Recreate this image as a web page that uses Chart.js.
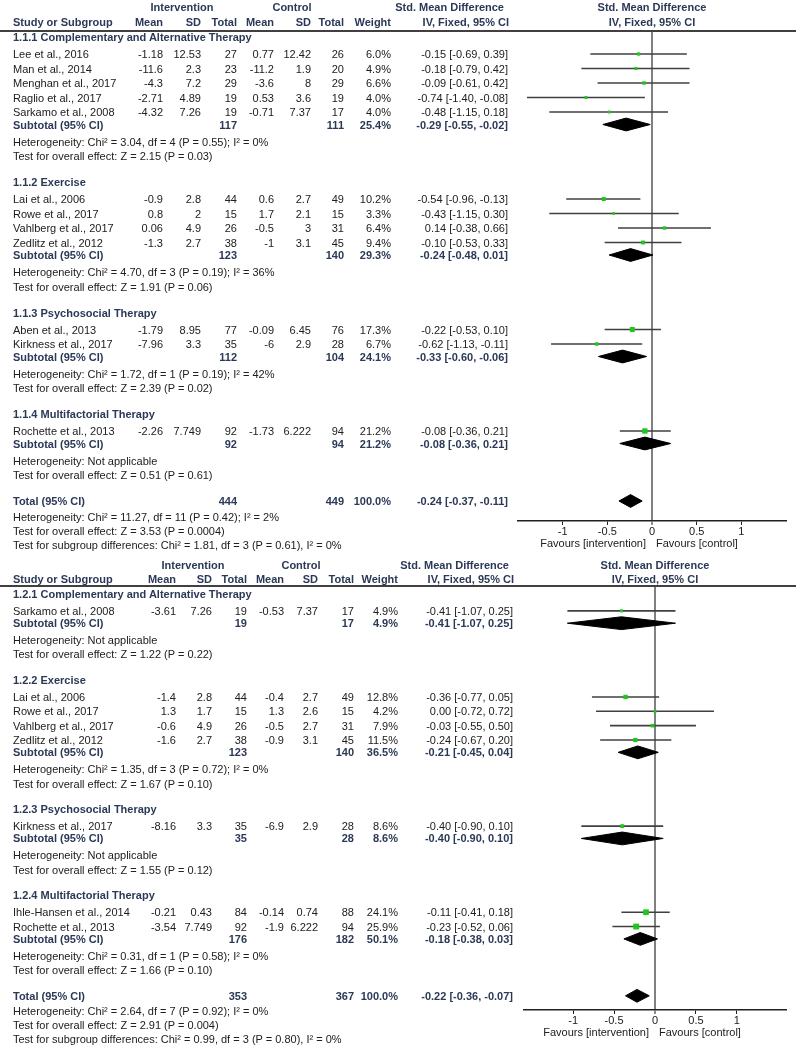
<!DOCTYPE html>
<html><head><meta charset="utf-8">
<script src="https://cdn.jsdelivr.net/npm/chart.js@4.4.0/dist/chart.umd.min.js"></script>
<style>
html,body{margin:0;padding:0;background:#fff;}
#page{position:relative;width:802px;height:1050px;overflow:hidden;font-family:"Liberation Sans",Arial,sans-serif;font-size:11px;color:#202020;}
.t{position:absolute;white-space:nowrap;line-height:14px;height:14px;}
.b{font-weight:bold;color:#2b3957;}
canvas{position:absolute;left:0;}
.hl{position:absolute;left:0;width:796px;height:0;border-top:2px solid #404040;}
</style></head>
<body><div id="page">
<canvas id="c1"></canvas>
<canvas id="c2"></canvas>
</div>
<script>
// ================= Panel 1 data =================
const groups1 = ['1.1.1 Complementary and Alternative Therapy','1.1.2 Exercise','1.1.3 Psychosocial Therapy','1.1.4 Multifactorial Therapy'];
const studies1 = ['Lee et al., 2016','Man et al., 2014','Menghan et al., 2017','Raglio et al., 2017','Sarkamo et al., 2008','Lai et al., 2006','Rowe et al., 2017','Vahlberg et al., 2017','Zedlitz et al., 2012','Aben et al., 2013','Kirkness et al., 2017','Rochette et al., 2013'];
const studyGroup1 = [0,0,0,0,0,1,1,1,1,2,2,3];
const intMean1 = [-1.18,-11.6,-4.3,-2.71,-4.32,-0.9,0.8,0.06,-1.3,-1.79,-7.96,-2.26];
const intSD1 = [12.53,2.3,7.2,4.89,7.26,2.8,2,4.9,2.7,8.95,3.3,7.749];
const intN1 = [27,23,29,19,19,44,15,26,38,77,35,92];
const ctlMean1 = [0.77,-11.2,-3.6,0.53,-0.71,0.6,1.7,-0.5,-1,-0.09,-6,-1.73];
const ctlSD1 = [12.42,1.9,8,3.6,7.37,2.7,2.1,3,3.1,6.45,2.9,6.222];
const ctlN1 = [26,20,29,19,17,49,15,31,45,76,28,94];
const weight1 = [6.0,4.9,6.6,4.0,4.0,10.2,3.3,6.4,9.4,17.3,6.7,21.2];
const smd1 = [-0.15,-0.18,-0.09,-0.74,-0.48,-0.54,-0.43,0.14,-0.10,-0.22,-0.62,-0.08];
const smdLo1 = [-0.69,-0.79,-0.61,-1.40,-1.15,-0.96,-1.15,-0.38,-0.53,-0.53,-1.13,-0.36];
const smdHi1 = [0.39,0.42,0.42,-0.08,0.18,-0.13,0.30,0.66,0.33,0.10,-0.11,0.21];
const subIntN1 = [117,123,112,92];
const subCtlN1 = [111,140,104,94];
const subWeight1 = [25.4,29.3,24.1,21.2];
const subSmd1 = [-0.29,-0.24,-0.33,-0.08];
const subLo1 = [-0.55,-0.48,-0.60,-0.36];
const subHi1 = [-0.02,0.01,-0.06,0.21];
const subHet1 = ['Chi² = 3.04, df = 4 (P = 0.55); I² = 0%','Chi² = 4.70, df = 3 (P = 0.19); I² = 36%','Chi² = 1.72, df = 1 (P = 0.19); I² = 42%','Not applicable'];
const subZ1 = ['Z = 2.15 (P = 0.03)','Z = 1.91 (P = 0.06)','Z = 2.39 (P = 0.02)','Z = 0.51 (P = 0.61)'];
const totalN1 = [444,449];
const totalWeight1 = 100.0;
const totalSmd1 = [-0.24,-0.37,-0.11];
const totalHet1 = 'Chi² = 11.27, df = 11 (P = 0.42); I² = 2%';
const totalZ1 = 'Z = 3.53 (P = 0.0004)';
const subgroupTest1 = 'Chi² = 1.81, df = 3 (P = 0.61), I² = 0%';

// ================= Panel 2 data =================
const groups2 = ['1.2.1 Complementary and Alternative Therapy','1.2.2 Exercise','1.2.3 Psychosocial Therapy','1.2.4 Multifactorial Therapy'];
const studies2 = ['Sarkamo et al., 2008','Lai et al., 2006','Rowe et al., 2017','Vahlberg et al., 2017','Zedlitz et al., 2012','Kirkness et al., 2017','Ihle-Hansen et al., 2014','Rochette et al., 2013'];
const studyGroup2 = [0,1,1,1,1,2,3,3];
const intMean2 = [-3.61,-1.4,1.3,-0.6,-1.6,-8.16,-0.21,-3.54];
const intSD2 = [7.26,2.8,1.7,4.9,2.7,3.3,0.43,7.749];
const intN2 = [19,44,15,26,38,35,84,92];
const ctlMean2 = [-0.53,-0.4,1.3,-0.5,-0.9,-6.9,-0.14,-1.9];
const ctlSD2 = [7.37,2.7,2.6,2.7,3.1,2.9,0.74,6.222];
const ctlN2 = [17,49,15,31,45,28,88,94];
const weight2 = [4.9,12.8,4.2,7.9,11.5,8.6,24.1,25.9];
const smd2 = [-0.41,-0.36,0.00,-0.03,-0.24,-0.40,-0.11,-0.23];
const smdLo2 = [-1.07,-0.77,-0.72,-0.55,-0.67,-0.90,-0.41,-0.52];
const smdHi2 = [0.25,0.05,0.72,0.50,0.20,0.10,0.18,0.06];
const subIntN2 = [19,123,35,176];
const subCtlN2 = [17,140,28,182];
const subWeight2 = [4.9,36.5,8.6,50.1];
const subSmd2 = [-0.41,-0.21,-0.40,-0.18];
const subLo2 = [-1.07,-0.45,-0.90,-0.38];
const subHi2 = [0.25,0.04,0.10,0.03];
const subHet2 = ['Not applicable','Chi² = 1.35, df = 3 (P = 0.72); I² = 0%','Not applicable','Chi² = 0.31, df = 1 (P = 0.58); I² = 0%'];
const subZ2 = ['Z = 1.22 (P = 0.22)','Z = 1.67 (P = 0.10)','Z = 1.55 (P = 0.12)','Z = 1.66 (P = 0.10)'];
const totalN2 = [353,367];
const totalWeight2 = 100.0;
const totalSmd2 = [-0.22,-0.36,-0.07];
const totalHet2 = 'Chi² = 2.64, df = 7 (P = 0.92); I² = 0%';
const totalZ2 = 'Z = 2.91 (P = 0.004)';
const subgroupTest2 = 'Chi² = 0.99, df = 3 (P = 0.80), I² = 0%';

// ================= shared labels =================
const xTicks = [-1,-0.5,0,0.5,1];
const colHeads = ['Mean','SD','Total','Mean','SD','Total','Weight'];
const armHeads = ['Intervention','Control'];
const effectHeads = ['Std. Mean Difference','IV, Fixed, 95% CI'];
const favourLabels = ['Favours [intervention]','Favours [control]'];

// ================= layout (positions only) =================
const L1 = {canvasTop:0, areaTop:31, areaBottom:521, y0:37, step:14.5, plotLeft:518, plotRight:786, xmin:-1.5, xmax:1.5,
  cols:[163,201,237,274,311,344,391], label:13, eff:508, hy1:7, hy2:22, intC:182, ctlC:292, smdL:504, ivL:509, zeroX:652, favY:543};
const L2 = {canvasTop:555, areaTop:586, areaBottom:1010, y0:594, step:14.35, plotLeft:524, plotRight:786, xmin:-1.6, xmax:1.6,
  cols:[176,212,247,284,318,354,398], label:13, eff:513, hy1:565, hy2:579, intC:193, ctlC:301, smdL:509, ivL:514, zeroX:655, favY:1032};
// vertical nudges (px) per row kind
const OFF = {group:0, study:2.5, sub:0.5, het:3, test:3, total:0, thet:1, ttest:0.5, sg:0};

Chart.defaults.font.family = '"Liberation Sans", Arial, sans-serif';
Chart.defaults.font.size = 11;
Chart.defaults.color = '#202020';

const page = document.getElementById('page');
function addText(txt, x, y, align, bold){
  const d = document.createElement('div');
  d.className = 't' + (bold ? ' b' : '');
  d.textContent = txt;
  d.style.top = (y - 7) + 'px';
  if (align === 'l') { d.style.left = x + 'px'; }
  else if (align === 'r') { d.style.left = (x - 300) + 'px'; d.style.width = '300px'; d.style.textAlign = 'right'; }
  else { d.style.left = (x - 150) + 'px'; d.style.width = '300px'; d.style.textAlign = 'center'; }
  page.appendChild(d);
}
const f2 = v => v.toFixed(2);
const effStr = (e, lo, hi) => f2(e) + ' [' + f2(lo) + ', ' + f2(hi) + ']';

function buildPanel(P, L, canvasId){
  const rv = (i, kind) => i + OFF[kind] / L.step;   // row value on the y scale
  const py = v => L.y0 + v * L.step;                 // same mapping as the chart's y scale
  // header
  addText(armHeads[0], L.intC, L.hy1, 'c', true);
  addText(armHeads[1], L.ctlC, L.hy1, 'c', true);
  addText(effectHeads[0], L.smdL, L.hy1, 'r', true);
  addText(effectHeads[0], L.zeroX, L.hy1, 'c', true);
  addText('Study or Subgroup', L.label, L.hy2, 'l', true);
  colHeads.forEach((h, k) => addText(h, L.cols[k], L.hy2, 'r', true));
  addText(effectHeads[1], L.ivL, L.hy2, 'r', true);
  addText(effectHeads[1], L.zeroX, L.hy2, 'c', true);
  const hl = document.createElement('div'); hl.className = 'hl'; hl.style.top = (L.areaTop - 1) + 'px'; page.appendChild(hl);

  const studyPts = [], lines = [], diamonds = [];
  let idx = 0;
  P.groups.forEach((g, gi) => {
    addText(g, L.label, py(rv(idx, 'group')), 'l', true); idx++;
    P.names.forEach((n, si) => {
      if (P.grp[si] !== gi) return;
      const v = rv(idx, 'study'), y = py(v);
      addText(n, L.label, y, 'l', false);
      [P.im[si], P.isd[si], P.in[si], P.cm[si], P.csd[si], P.cn[si]].forEach((val, k) => addText(String(val), L.cols[k], y, 'r', false));
      addText(P.w[si].toFixed(1) + '%', L.cols[6], y, 'r', false);
      addText(effStr(P.e[si], P.lo[si], P.hi[si]), L.eff, y, 'r', false);
      studyPts.push({x: P.e[si], y: v, w: P.w[si]});
      lines.push([{x: P.lo[si], y: v}, {x: P.hi[si], y: v}]);
      idx++;
    });
    const vs = rv(idx, 'sub'), ys = py(vs);
    addText('Subtotal (95% CI)', L.label, ys, 'l', true);
    addText(String(P.sin[gi]), L.cols[2], ys, 'r', true);
    addText(String(P.scn[gi]), L.cols[5], ys, 'r', true);
    addText(P.sw[gi].toFixed(1) + '%', L.cols[6], ys, 'r', true);
    addText(effStr(P.se[gi], P.slo[gi], P.shi[gi]), L.eff, ys, 'r', true);
    diamonds.push({e: P.se[gi], lo: P.slo[gi], hi: P.shi[gi], y: vs});
    idx++;
    addText('Heterogeneity: ' + P.het[gi], L.label, py(rv(idx, 'het')), 'l', false); idx++;
    addText('Test for overall effect: ' + P.z[gi], L.label, py(rv(idx, 'test')), 'l', false); idx++;
    idx++;
  });
  const vt = rv(idx, 'total'), yt = py(vt);
  addText('Total (95% CI)', L.label, yt, 'l', true);
  addText(String(P.tn[0]), L.cols[2], yt, 'r', true);
  addText(String(P.tn[1]), L.cols[5], yt, 'r', true);
  addText(P.tw.toFixed(1) + '%', L.cols[6], yt, 'r', true);
  addText(effStr(P.te[0], P.te[1], P.te[2]), L.eff, yt, 'r', true);
  diamonds.push({e: P.te[0], lo: P.te[1], hi: P.te[2], y: vt});
  idx++;
  addText('Heterogeneity: ' + P.thet, L.label, py(rv(idx, 'thet')), 'l', false); idx++;
  addText('Test for overall effect: ' + P.tz, L.label, py(rv(idx, 'ttest')), 'l', false); idx++;
  addText('Test for subgroup differences: ' + P.sg, L.label, py(rv(idx, 'sg')), 'l', false);

  addText(favourLabels[0], L.zeroX - 6, L.favY, 'r', false);
  addText(favourLabels[1], L.zeroX + 4, L.favY, 'l', false);

  // chart
  const cv = document.getElementById(canvasId);
  const axisH = 20;
  const H = (L.areaBottom - L.canvasTop) + axisH;
  cv.width = 802; cv.height = H;
  cv.style.top = L.canvasTop + 'px'; cv.style.width = '802px'; cv.style.height = H + 'px';
  const ymin = (L.areaTop - L.y0) / L.step, ymax = (L.areaBottom - L.y0) / L.step;
  const dh = 6.4 / L.step;
  const datasets = [];
  datasets.push({type: 'scatter', data: studyPts.map(p => ({x: p.x, y: p.y})), pointStyle: 'rect',
    pointRadius: studyPts.map(p => (1 + 0.95 * Math.sqrt(p.w)) * Math.SQRT1_2),
    backgroundColor: '#1dc81d', borderWidth: 0, order: 0});
  lines.forEach(l => datasets.push({type: 'line', data: l, borderColor: '#404040', borderWidth: 1.6, pointRadius: 0, fill: false, order: 2}));
  diamonds.forEach(d => datasets.push({type: 'line', data: [{x: d.lo, y: d.y}, {x: d.e, y: d.y - dh}, {x: d.hi, y: d.y}, {x: d.e, y: d.y + dh}, {x: d.lo, y: d.y}],
    borderColor: '#000', backgroundColor: '#000', borderWidth: 1, pointRadius: 0, fill: 'shape', tension: 0, order: 1}));
  new Chart(cv, {
    type: 'scatter',
    data: {datasets},
    options: {
      responsive: false, animation: false, events: [],
      layout: {padding: {left: L.plotLeft, right: 802 - L.plotRight, top: L.areaTop - L.canvasTop, bottom: 0}},
      plugins: {legend: {display: false}, tooltip: {enabled: false}},
      scales: {
        x: {type: 'linear', min: L.xmin, max: L.xmax, position: 'bottom',
          afterBuildTicks: s => { s.ticks = xTicks.map(v => ({value: v})); },
          afterFit: s => { s.height = axisH; },
          ticks: {color: '#202020', padding: 0, maxRotation: 0, autoSkip: false, callback: v => String(v)},
          grid: {color: c => (c.tick && c.tick.value === 0) ? '#808080' : 'rgba(0,0,0,0)',
                 lineWidth: c => (c.tick && c.tick.value === 0) ? 2 : 1,
                 tickColor: '#202020', tickLength: 4, tickWidth: 1},
          border: {display: true, color: '#202020', width: 1.5}
        },
        y: {type: 'linear', reverse: true, min: ymin, max: ymax, display: false}
      }
    }
  });
}

buildPanel({groups: groups1, names: studies1, grp: studyGroup1, im: intMean1, isd: intSD1, in: intN1, cm: ctlMean1, csd: ctlSD1, cn: ctlN1,
  w: weight1, e: smd1, lo: smdLo1, hi: smdHi1, sin: subIntN1, scn: subCtlN1, sw: subWeight1, se: subSmd1, slo: subLo1, shi: subHi1,
  het: subHet1, z: subZ1, tn: totalN1, tw: totalWeight1, te: totalSmd1, thet: totalHet1, tz: totalZ1, sg: subgroupTest1}, L1, 'c1');
buildPanel({groups: groups2, names: studies2, grp: studyGroup2, im: intMean2, isd: intSD2, in: intN2, cm: ctlMean2, csd: ctlSD2, cn: ctlN2,
  w: weight2, e: smd2, lo: smdLo2, hi: smdHi2, sin: subIntN2, scn: subCtlN2, sw: subWeight2, se: subSmd2, slo: subLo2, shi: subHi2,
  het: subHet2, z: subZ2, tn: totalN2, tw: totalWeight2, te: totalSmd2, thet: totalHet2, tz: totalZ2, sg: subgroupTest2}, L2, 'c2');
</script>
</body></html>
